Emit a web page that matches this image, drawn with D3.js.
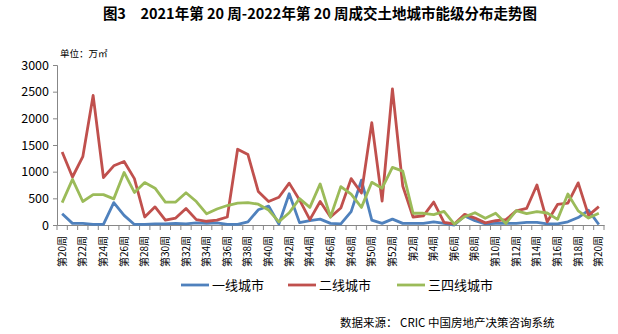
<!DOCTYPE html>
<html><head><meta charset="utf-8">
<script src="https://cdn.jsdelivr.net/npm/d3@7"></script>
<style>
body{margin:0;background:#fff;}
text{font-family:"Noto Sans CJK SC","Liberation Sans",sans-serif;}
</style></head>
<body><svg id="chart" width="618" height="334"></svg>
<script>
const weeks2021 = d3.range(20, 53).map(w => "第" + w + "周");
const weeks2022 = d3.range(1, 21).map(w => "第" + w + "周");
const categories = weeks2021.concat(weeks2022);
const tier1 = [210,30,30,10,10,420,180,10,10,20,20,30,20,40,30,40,10,10,60,285,355,20,585,45,80,110,30,20,250,840,90,30,110,30,30,30,60,30,0,170,80,20,30,30,30,50,50,20,20,60,140,275,10];
const tier2 = [1370,900,1280,2430,890,1110,1190,870,150,340,90,130,310,100,70,90,150,1420,1320,630,440,520,785,470,100,440,150,320,870,600,1920,450,2550,730,150,170,430,50,20,200,130,40,80,100,265,310,750,60,385,410,790,180,345];
const tier34 = [420,855,440,570,570,490,985,610,795,690,430,430,605,440,210,300,365,410,420,390,280,60,230,495,330,770,150,720,580,330,800,690,1080,1010,220,220,195,255,15,155,230,125,220,30,270,215,250,225,106,580,265,130,220];
const yTicks = [0,500,1000,1500,2000,2500,3000];
const seriesNames = ["一线城市","二线城市","三四线城市"];
const colors = ["#4F81BD","#C0504D","#9BBB59"];

(function(){
const svg = d3.select("#chart");
const pL = 57, pR = 604, pT = 65, pB = 225;
const idx = d3.range(categories.length);
const x = d3.scaleBand().domain(idx).range([pL, pR]).padding(0);
const y = d3.scaleLinear().domain([0, 3000]).range([pB, pT]);
const cx = i => x(i) + x.bandwidth() / 2;

// title
svg.append("text").attr("x", 320).attr("y", 19).attr("text-anchor", "middle")
  .attr("font-size", 14.5).attr("font-weight", "bold").attr("fill", "#000")
  .text("图3　2021年第 20 周-2022年第 20 周成交土地城市能级分布走势图");
svg.append("text").attr("x", 60).attr("y", 57).attr("font-size", 9.5).attr("fill", "#000")
  .text("单位：万㎡");

// y axis
const yAxis = d3.axisLeft(y).tickValues(yTicks).tickFormat(d3.format("d")).tickSize(4).tickPadding(4);
const gy = svg.append("g").attr("transform", `translate(${pL},0)`).call(yAxis);
gy.selectAll("path,line").attr("stroke", "#878787");
gy.selectAll("text").attr("font-family", "Liberation Sans, Arial, sans-serif").attr("font-size", 12.5).attr("fill", "#000");

// x axis
const xAxis = d3.axisBottom(x).tickSize(0).tickFormat("");
const gx = svg.append("g").attr("transform", `translate(0,${pB})`).call(xAxis);
gx.select("path").attr("stroke", "#878787");
gx.selectAll(".tick").remove();
const bounds = idx.map(i => x(i)).concat([pR]);
gx.selectAll("line.tk").data(bounds).enter().append("line").attr("class", "tk")
  .attr("x1", d => d).attr("x2", d => d).attr("y1", 0).attr("y2", 5).attr("stroke", "#878787");
const labelIdx = idx.filter(i => (i <= 32 && i % 2 === 0) || (i > 32 && (i - 33) % 2 === 1));
svg.append("g").selectAll("text").data(labelIdx).enter().append("text")
  .attr("transform", i => `translate(${cx(i) + 3.5},${pB + 11}) rotate(-90)`)
  .attr("text-anchor", "end").attr("font-size", 10).attr("fill", "#000")
  .text(i => categories[i]);

// lines
const data = [tier1, tier2, tier34];
const line = d3.line().x((d, i) => cx(i)).y(d => y(d));
data.forEach((s, k) => {
  svg.append("path").datum(s).attr("d", line).attr("fill", "none")
    .attr("stroke", colors[k]).attr("stroke-width", 2.8).attr("stroke-linejoin", "round");
});

// legend
const legX = [181, 288, 397];
seriesNames.forEach((n, k) => {
  svg.append("line").attr("x1", legX[k]).attr("x2", legX[k] + 28).attr("y1", 285).attr("y2", 285)
    .attr("stroke", colors[k]).attr("stroke-width", 2.8);
  svg.append("text").attr("x", legX[k] + 31).attr("y", 290).attr("font-size", 13).attr("fill", "#000").text(n);
});

svg.append("text").attr("x", 340).attr("y", 327).attr("font-size", 11.5).attr("fill", "#000")
  .text("数据来源：  CRIC 中国房地产决策咨询系统");
})();
</script></body></html>
